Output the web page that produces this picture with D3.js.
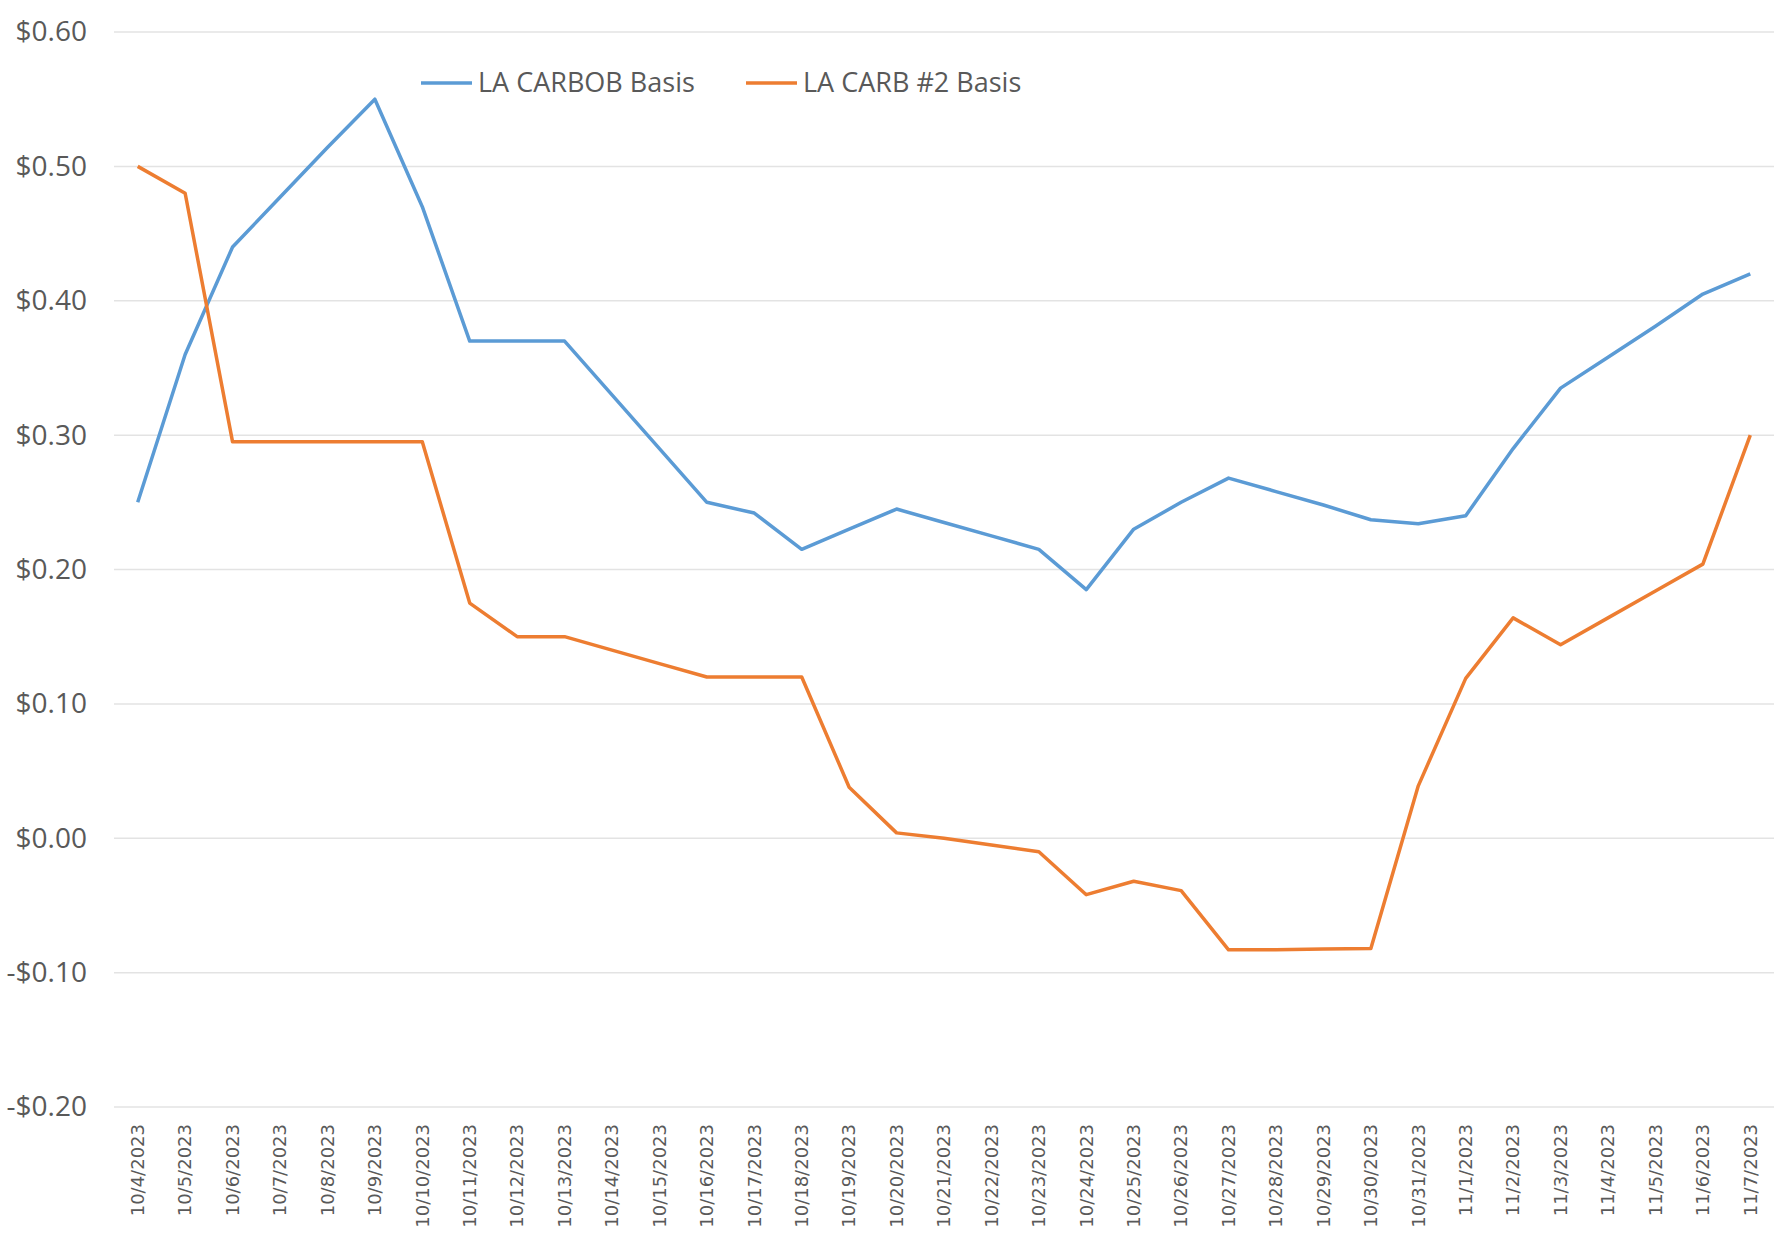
<!DOCTYPE html>
<html>
<head>
<meta charset="utf-8">
<script src="https://cdn.jsdelivr.net/npm/d3@7"></script>
<style>
  body { margin: 0; background: #fff; }
</style>
</head>
<body>
<div id="chart"></div>
<script>
// dates on the x axis
const dates = ["10/4/2023","10/5/2023","10/6/2023","10/7/2023","10/8/2023","10/9/2023","10/10/2023",
  "10/11/2023","10/12/2023","10/13/2023","10/14/2023","10/15/2023","10/16/2023","10/17/2023",
  "10/18/2023","10/19/2023","10/20/2023","10/21/2023","10/22/2023","10/23/2023","10/24/2023",
  "10/25/2023","10/26/2023","10/27/2023","10/28/2023","10/29/2023","10/30/2023","10/31/2023",
  "11/1/2023","11/2/2023","11/3/2023","11/4/2023","11/5/2023","11/6/2023","11/7/2023"];

// LA CARBOB Basis
const carbob = [0.25, 0.36, 0.44, 0.477, 0.514, 0.55, 0.47, 0.37, 0.37, 0.37, 0.33, 0.29,
  0.25, 0.242, 0.215, 0.23, 0.245, 0.235, 0.225, 0.215, 0.185, 0.23, 0.25, 0.268, 0.258,
  0.248, 0.237, 0.234, 0.24, 0.29, 0.335, 0.358, 0.381, 0.405, 0.42];

// LA CARB #2 Basis
const carb2 = [0.50, 0.48, 0.295, 0.295, 0.295, 0.295, 0.295, 0.175, 0.15, 0.15, 0.14, 0.13,
  0.12, 0.12, 0.12, 0.038, 0.004, 0.0, -0.005, -0.01, -0.042, -0.032, -0.039, -0.083, -0.083,
  -0.0825, -0.082, 0.039, 0.119, 0.164, 0.144, 0.164, 0.184, 0.204, 0.30];

const yTicks = [-0.2, -0.1, 0, 0.1, 0.2, 0.3, 0.4, 0.5, 0.6];

const seriesNames = ["LA CARBOB Basis", "LA CARB #2 Basis"];
const colors = ["#5b9bd5", "#ed7d31"];

const width = 1785;
const height = 1243;
const margin = { top: 32, right: 11, bottom: 136, left: 114 };

const svg = d3.select('#chart').append('svg')
  .attr('width', width)
  .attr('height', height);

const xScale = d3.scaleBand()
  .domain(dates)
  .range([margin.left, width - margin.right]);

const yScale = d3.scaleLinear()
  .domain([-0.2, 0.6])
  .range([height - margin.bottom, margin.top]);

const fmt = v => (v < 0 ? "-$" : "$") + Math.abs(v).toFixed(2);

// gridlines
svg.append('g')
  .selectAll('line')
  .data(yTicks)
  .enter().append('line')
  .attr('x1', margin.left)
  .attr('x2', width - margin.right)
  .attr('y1', d => yScale(d))
  .attr('y2', d => yScale(d))
  .attr('stroke', '#e3e3e3')
  .attr('stroke-width', 1.5);

// y axis labels
const yAxis = svg.append('g')
  .attr('transform', `translate(${margin.left},0)`)
  .call(d3.axisLeft(yScale).tickValues(yTicks).tickFormat(fmt).tickSize(0).tickPadding(27));
yAxis.select('.domain').remove();
yAxis.selectAll('text')
  .attr('fill', '#595959')
  .style('font-family', '"Open Sans", sans-serif')
  .style('font-size', '28px');

// x axis labels
const xAxis = svg.append('g')
  .attr('transform', `translate(0,${height - margin.bottom})`)
  .call(d3.axisBottom(xScale).tickSize(0).tickPadding(0));
xAxis.select('.domain').remove();
xAxis.selectAll('text')
  .attr('fill', '#595959')
  .style('font-family', '"DejaVu Sans", sans-serif')
  .style('font-size', '18px')
  .attr('text-anchor', 'end')
  .attr('dy', '0.35em')
  .attr('transform', 'translate(0,17) rotate(-90)');

// lines
const line = d3.line()
  .x((d, i) => xScale(dates[i]) + xScale.bandwidth() / 2)
  .y(d => yScale(d));

[carbob, carb2].forEach((s, i) => {
  svg.append('path')
    .datum(s)
    .attr('fill', 'none')
    .attr('stroke', colors[i])
    .attr('stroke-width', 3.5)
    .attr('stroke-linejoin', 'round')
    .attr('d', line);
});

// legend
const legendX = [421, 746];
const legend = svg.append('g');
seriesNames.forEach((name, i) => {
  legend.append('line')
    .attr('x1', legendX[i])
    .attr('x2', legendX[i] + 51)
    .attr('y1', 83)
    .attr('y2', 83)
    .attr('stroke', colors[i])
    .attr('stroke-width', 3.5);
  legend.append('text')
    .attr('x', legendX[i] + 57)
    .attr('y', 83)
    .attr('dy', '0.35em')
    .attr('fill', '#595959')
    .style('font-family', '"Open Sans", sans-serif')
    .style('font-size', '27px')
    .text(name);
});
</script>
</body>
</html>
